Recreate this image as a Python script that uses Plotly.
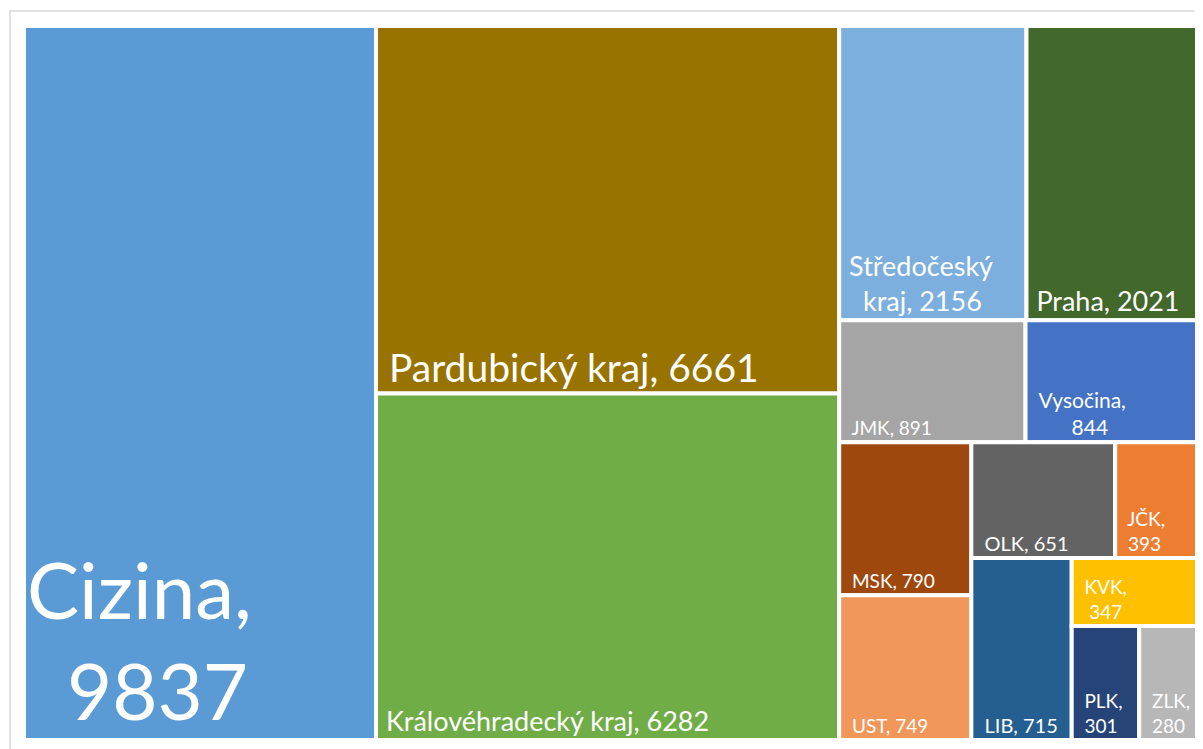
import plotly.graph_objects as go

# ---- data ----
regions = ["Cizina", "Pardubický kraj", "Královéhradecký kraj", "Středočeský kraj", "Praha",
           "JMK", "Vysočina", "MSK", "UST", "OLK", "JČK", "LIB", "KVK", "PLK", "ZLK"]
counts = [9837, 6661, 6282, 2156, 2021, 891, 844, 790, 749, 651, 393, 715, 347, 301, 280]

# ---- styling ----
colors = ["#5B9BD5", "#997300", "#70AD47", "#7CAFDD", "#43682B",
          "#A5A5A5", "#4472C4", "#9E480E", "#F1975A", "#636363",
          "#ED7D31", "#255E91", "#FFC000", "#264478", "#B7B7B7"]
# where the label wraps ("\n") as in the original
label_breaks = ["\n", " ", " ", " ", " ", " ", "\n", " ", " ", " ", "\n", " ", "\n", "\n", "\n"]
wrapped_names = [r.replace("Středočeský kraj", "Středočeský\nkraj") for r in regions]
# left indent (in no-break spaces) of each text line
line_indents = [[0, 2], [1], [1], [1, 3], [1], [2], [2, 8], [2], [2], [2], [2, 2], [2], [2, 3], [2, 2], [2, 2]]
font_sizes = [78, 39, 27, 27, 27, 19, 21, 19, 19, 20, 19, 20, 19, 19, 19]

texts = []
for name, sep, val, ind in zip(wrapped_names, label_breaks, counts, line_indents):
    lines = f"{name},{sep}{val}".split("\n")
    texts.append("<br>".join("\u00a0" * ind[min(i, len(ind) - 1)] + ln for i, ln in enumerate(lines)))

fig = go.Figure(go.Treemap(
    labels=regions,
    parents=[""] * len(regions),
    values=counts,
    text=texts,
    sort=False,
    tiling=dict(packing="squarify", squarifyratio=1, pad=0),
    marker=dict(colors=colors, line=dict(color="white", width=4), pad=dict(t=0, l=0, r=0, b=0)),
    texttemplate="%{text}",
    textposition="bottom left",
    textfont=dict(family="Lato, 'Open Sans', sans-serif", color="white", size=font_sizes),
    hoverinfo="label+value",
    pathbar=dict(visible=False),
    root=dict(color="white"),
))

# page body has an 8px margin, so the figure is drawn slightly smaller than the window
W, H = 1195, 741
ml, mr, mt, mb = 16, 1, 18, 9
pw, ph = W - ml - mr, H - mt - mb
fig.update_layout(
    width=W, height=H,
    margin=dict(l=ml, r=mr, t=mt, b=mb),
    paper_bgcolor="white",
    uniformtext=dict(minsize=8),
    shapes=[dict(type="rect", xref="paper", yref="paper",
                 x0=(2 - ml) / pw, x1=(W + 10 - ml) / pw,
                 y0=(H - mb - (H + 10)) / ph, y1=(H - mb - 3) / ph,
                 line=dict(color="#D9D9D9", width=1.5), fillcolor="rgba(0,0,0,0)", layer="below")],
)

fig.write_html("out.html")
